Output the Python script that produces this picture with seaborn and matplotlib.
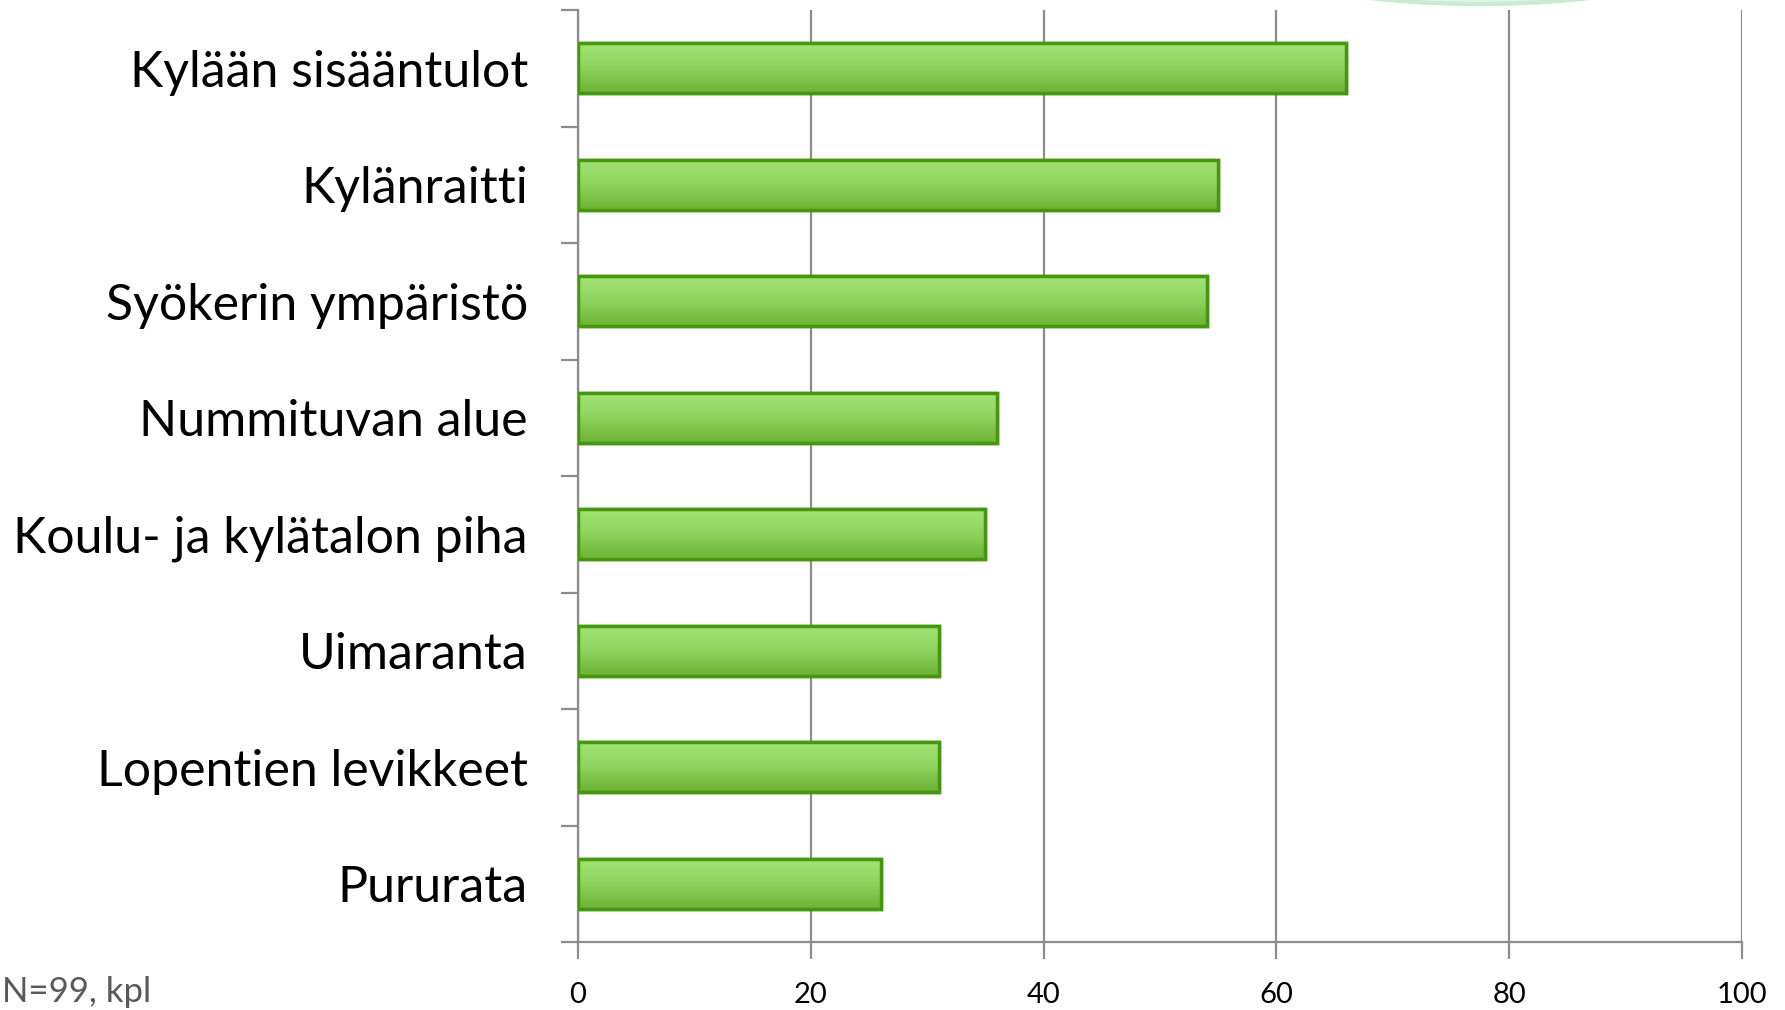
import numpy as np
import pandas as pd
import matplotlib
matplotlib.use("Agg")
import matplotlib.pyplot as plt
import seaborn as sns
from matplotlib.patches import Ellipse
from matplotlib.ticker import FixedLocator

# data
places = ['Kylään sisääntulot', 'Kylänraitti', 'Syökerin ympäristö', 'Nummituvan alue',
          'Koulu- ja kylätalon piha', 'Uimaranta', 'Lopentien levikkeet', 'Pururata']
counts = [66, 55, 54, 36, 35, 31, 31, 26]
x_ticks = [0, 20, 40, 60, 80, 100]
note = 'N=99, kpl'

df = pd.DataFrame({'paikka': places, 'kpl': counts})

sns.set_style("white")
plt.rcParams['font.family'] = ['Lato', 'DejaVu Sans']

fig = plt.figure(figsize=(17.85, 10.10), dpi=100)
ax = fig.add_axes([0.3238, 0.0673, 0.9759 - 0.3238, 0.990 - 0.0673])

sns.barplot(data=df, x='kpl', y='paikka', orient='h', width=0.43,
            color='#8cd45a', edgecolor='#47960f', linewidth=2.5, ax=ax, zorder=3)

# vertical gradient inside each bar (light top, darker bottom)
grad = np.linspace(0, 1, 64).reshape(-1, 1)
cmap = matplotlib.colors.LinearSegmentedColormap.from_list('g', ['#a2e476', '#8ed35e', '#6bb334'])
for p in list(ax.patches):
    x0, y0 = p.get_x(), p.get_y()
    w, h = p.get_width(), p.get_height()
    im = ax.imshow(grad, cmap=cmap, aspect='auto', extent=[x0, x0 + w, y0 + h, y0],
                   zorder=3.5, interpolation='bilinear')
    im.set_clip_path(p)
    # edge redrawn on top
    ax.add_patch(plt.Rectangle((x0, y0), w, h, fill=False, edgecolor='#47960f',
                               linewidth=2.5, zorder=4))

ax.set_xlim(0, 100)
ax.set_ylim(len(places) - 0.5, -0.5)
ax.set_xticks(x_ticks)
ax.set_xticklabels([str(t) for t in x_ticks], fontsize=21)
ax.xaxis.grid(True, color='#8c8c8c', linewidth=1.6, zorder=0)
ax.yaxis.grid(False)
ax.set_axisbelow(True)
ax.set_xlabel('')
ax.set_ylabel('')

for s in ['top', 'right']:
    ax.spines[s].set_visible(False)
for s in ['left', 'bottom']:
    ax.spines[s].set_color('#8c8c8c')
    ax.spines[s].set_linewidth(1.6)

ax.tick_params(axis='y', which='major', left=True, length=0, pad=36, labelsize=36,
               labelcolor='black')
ax.yaxis.set_minor_locator(FixedLocator(np.arange(-0.5, len(places), 1.0)))
ax.tick_params(axis='y', which='minor', left=True, length=12, width=1.6, color='#8c8c8c',
               direction='out')
ax.tick_params(axis='x', which='major', bottom=True, length=12, width=1.6, color='#8c8c8c',
               direction='out', pad=17, labelcolor='black')

fig.text(0.001, 0.002, note, fontsize=25, color='#595959', ha='left', va='bottom')

# faint decorative arc at the top edge
fig.patches.append(Ellipse((0.829, 1.046), 0.26, 0.1, transform=fig.transFigure,
                           facecolor='#e4f5e8', edgecolor='#c6ebcf', linewidth=3, zorder=0))

fig.savefig('out.png', dpi=100)
